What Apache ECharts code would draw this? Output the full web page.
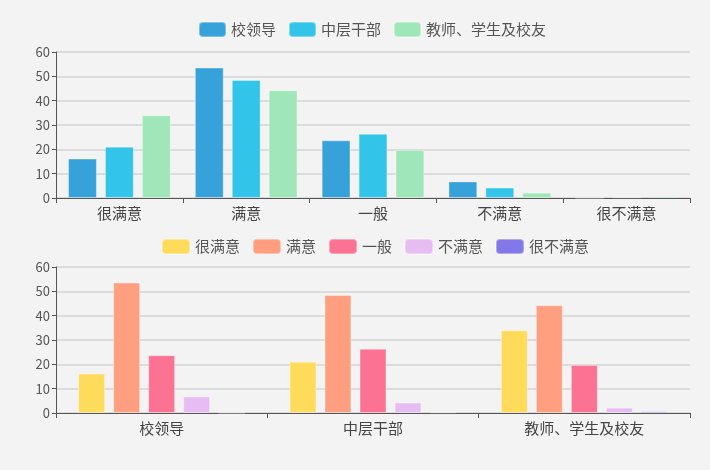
<!DOCTYPE html>
<html><head><meta charset="utf-8">
<script src="https://cdn.jsdelivr.net/npm/echarts@6/dist/echarts.min.js"></script>
<style>html,body{margin:0;padding:0;background:#f3f3f3}#c{width:710px;height:470px}</style>
</head><body><div id="c"></div>
<script>
const levels = ['很满意','满意','一般','不满意','很不满意'];
const groups = ['校领导','中层干部','教师、学生及校友'];
const leaders = [16.2, 53.6, 23.7, 6.8, 0.1];
const middle  = [21.1, 48.5, 26.4, 4.3, 0.3];
const teachers = [34.0, 44.3, 19.7, 2.2, 0.7];
const yTicks = [0, 10, 20, 30, 40, 50, 60];
const groupColors = ['#37a2da','#32c5e9','#9fe6b8'];
const levelColors = ['#ffdb5c','#ff9f7f','#fb7293','#e7bcf3','#8378ea'];

const groupData = [leaders, middle, teachers];
const font = '"Noto Sans CJK SC", "Noto Sans", sans-serif';

const series = [];
groups.forEach((g, i) => {
  series.push({
    name: g, type: 'bar', xAxisIndex: 0, yAxisIndex: 0,
    data: groupData[i], barGap: '28%', barCategoryGap: '19%',
    itemStyle: {color: groupColors[i], borderColor: 'rgba(255,255,255,0.35)', borderWidth: 1}
  });
});
levels.forEach((l, j) => {
  series.push({
    name: l, type: 'bar', xAxisIndex: 1, yAxisIndex: 1,
    data: groupData.map(arr => arr[j]), barGap: '30%', barCategoryGap: '21%',
    itemStyle: {color: levelColors[j], borderColor: 'rgba(255,255,255,0.35)', borderWidth: 1}
  });
});

function yAxis(gi) {
  return {
    type: 'value', gridIndex: gi, min: yTicks[0], max: yTicks[yTicks.length-1], interval: 10,
    axisLine: {show: true, lineStyle: {color: '#555'}},
    axisTick: {show: true, length: 4, lineStyle: {color: '#555'}},
    axisLabel: {color: '#555', fontSize: 13, fontFamily: font, margin: 6},
    splitLine: {lineStyle: {color: '#dcdcdc', width: 2}}
  };
}
function xAxis(gi, data) {
  return {
    type: 'category', gridIndex: gi, data: data,
    axisLine: {show: true, lineStyle: {color: '#555'}},
    axisTick: {show: true, length: 5, lineStyle: {color: '#555'}},
    axisLabel: {color: '#444', fontSize: 15, fontFamily: font, margin: 8}
  };
}

const chart = echarts.init(document.getElementById('c'));
chart.setOption({
  backgroundColor: '#f3f3f3',
  animation: false,
  textStyle: {fontFamily: font},
  legend: [
    {data: groups, top: 16, left: 193, icon: 'roundRect', itemWidth: 27, itemHeight: 15, itemGap: 12,
     textStyle: {fontSize: 15, color: '#555', fontFamily: font}},
    {data: levels, top: 233, left: 156, icon: 'roundRect', itemWidth: 28, itemHeight: 15, itemGap: 12,
     textStyle: {fontSize: 15, color: '#555', fontFamily: font}}
  ],
  grid: [
    {left: 56, right: 20, top: 52, height: 146},
    {left: 56, right: 20, top: 267, height: 146}
  ],
  xAxis: [xAxis(0, levels), xAxis(1, groups)],
  yAxis: [yAxis(0), yAxis(1)],
  series: series
});
</script></body></html>
